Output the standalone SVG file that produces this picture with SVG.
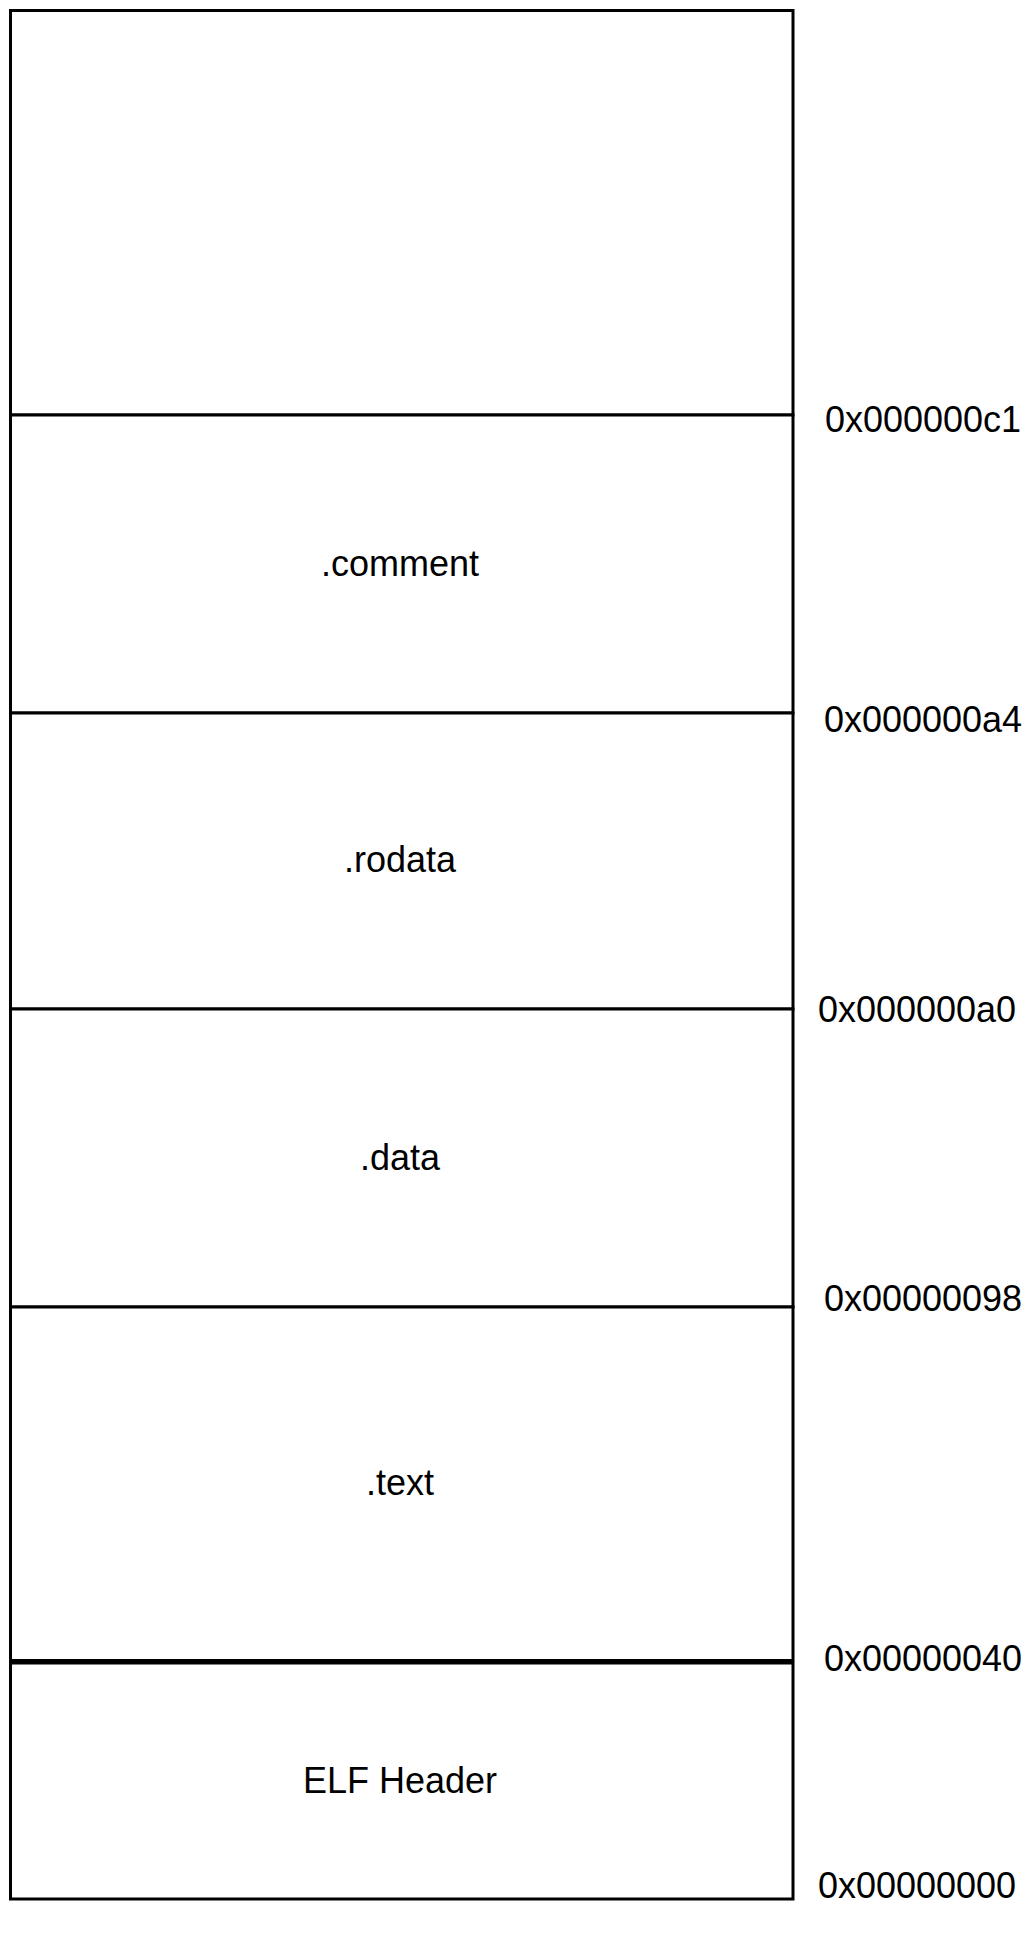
<svg xmlns="http://www.w3.org/2000/svg" width="1035" height="1944" viewBox="0 0 1035 1944">
<style>
.box{fill:#ffffff;stroke:#000000;stroke-width:3}
.lbl{font-family:"Liberation Sans",Arial,sans-serif;font-size:36px;fill:#000000;text-anchor:middle}
.addr{font-family:"Liberation Sans",Arial,sans-serif;font-size:36px;fill:#000000;text-anchor:middle}
</style>
<rect width="1035" height="1944" fill="#ffffff"/>
<g id="free"><rect class="box" x="10.5" y="10.5" width="782.5" height="404.5"/></g>
<g id="comment"><rect class="box" x="10.5" y="415" width="782.5" height="298"/><text class="lbl" x="400" y="576">.comment</text></g>
<g id="rodata"><rect class="box" x="10.5" y="713" width="782.5" height="296"/><text class="lbl" x="400" y="872">.rodata</text></g>
<g id="data"><rect class="box" x="10.5" y="1009" width="782.5" height="298"/><text class="lbl" x="400" y="1170">.data</text></g>
<g id="text"><rect class="box" x="10.5" y="1307" width="782.5" height="353.5"/><text class="lbl" x="400" y="1495">.text</text></g>
<g id="elfheader"><rect class="box" x="10.5" y="1663" width="782.5" height="236"/><text class="lbl" x="400" y="1793">ELF Header</text></g>
<g id="addresses">
<text class="addr" x="923" y="432">0x000000c1</text>
<text class="addr" x="923" y="732">0x000000a4</text>
<text class="addr" x="917" y="1022">0x000000a0</text>
<text class="addr" x="923" y="1311">0x00000098</text>
<text class="addr" x="923" y="1671">0x00000040</text>
<text class="addr" x="917" y="1898">0x00000000</text>
</g>
<g id="connectors"/>
</svg>
